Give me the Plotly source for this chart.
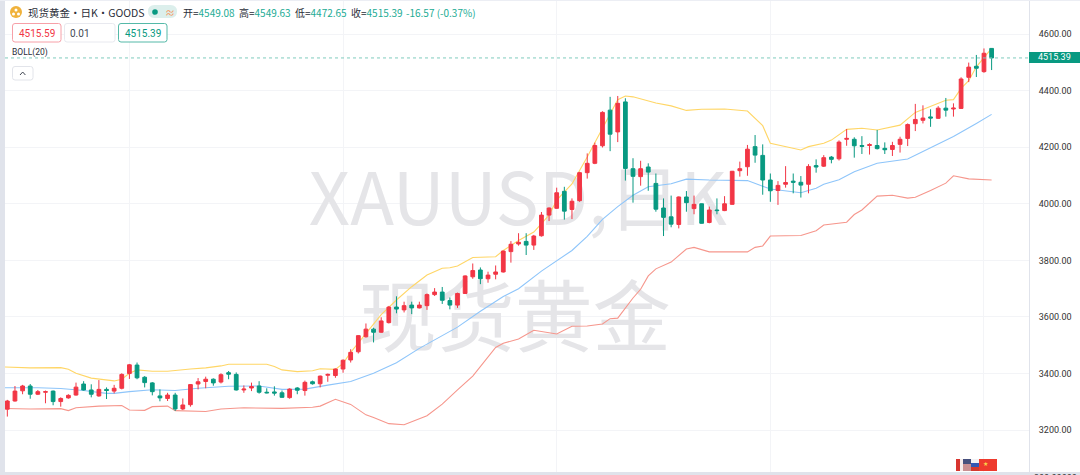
import plotly.graph_objects as go

# ---------- data ----------
opens = [3274,3303,3339,3356,3327,3334,3338,3301,3314,3324,3363,3342,3321,3344,3338,3348,3400,3430,3387,3367,
         3321,3312,3324,3275,3290,3363,3372,3380,3370,3403,3397,3342,3349,3356,3334,3335,3332,3315,3349,3340,
         3371,3364,3394,3393,3416,3448,3477,3530,3557,3546,3580,3635,3625,3642,3632,3640,3679,3688,3658,3642,
         3683,3742,3766,3735,3751,3759,3831,3858,3867,3854,3887,3960,3984,4044,3980,4011,4110,4143,4205,4331,
         4254,4360,4124,4096,4130,4072,3985,3954,3927,4024,3983,4000,3934,3978,3976,3998,4117,4131,4202,4171,
         4084,4047,4069,4080,4076,4069,4135,4133,4165,4159,4228,4228,4206,4206,4206,4196,4192,4210,4231,4283,
         4295,4307,4302,4338,4335,4337,4447,4486,4467,4549.08]
highs = [3307,3356,3360,3363,3342,3340,3340,3316,3327,3368,3373,3362,3377,3351,3360,3401,3434,3439,3391,3370,
         3344,3332,3332,3312,3363,3384,3389,3383,3401,3409,3404,3358,3368,3373,3348,3355,3340,3348,3352,3375,
         3375,3393,3400,3418,3450,3486,3536,3577,3562,3599,3639,3673,3654,3654,3654,3683,3702,3706,3669,3686,
         3747,3789,3775,3760,3782,3834,3868,3896,3896,3890,3971,3987,4057,4060,4019,4113,4178,4216,4327,4378,
         4381,4373,4161,4152,4143,4107,4019,4029,4026,4045,4029,4001,3990,4019,4027,4116,4149,4208,4243,4210,
         4107,4080,4133,4107,4098,4140,4157,4172,4169,4224,4264,4235,4239,4214,4261,4217,4219,4237,4284,4353,
         4348,4334,4345,4374,4355,4447,4499,4526,4549,4549.63]
lows = [3248,3301,3327,3311,3324,3295,3288,3283,3311,3322,3340,3316,3318,3310,3330,3344,3381,3380,3351,3323,
        3302,3303,3268,3271,3283,3344,3348,3357,3365,3380,3340,3332,3338,3329,3330,3322,3315,3311,3327,3322,
        3361,3351,3371,3385,3403,3439,3471,3527,3510,3544,3577,3613,3616,3610,3630,3625,3674,3646,3627,3632,
        3682,3735,3716,3721,3733,3757,3792,3852,3819,3837,3884,3939,3982,3944,3946,4007,4089,4140,4199,4186,
        4218,4082,4004,4064,4046,3972,3886,3917,3913,3972,3963,3930,3931,3963,3974,3997,4096,4099,4145,4032,
        4007,3996,4057,4037,4022,4037,4110,4130,4143,4153,4205,4163,4176,4174,4192,4176,4169,4181,4204,4257,
        4284,4272,4300,4308,4308,4336,4430,4448,4463,4472.65]
closes = [3303,3338,3356,3327,3336,3336,3301,3312,3323,3352,3342,3327,3344,3340,3348,3397,3431,3385,3368,3336,
          3314,3324,3275,3289,3361,3371,3380,3367,3396,3398,3342,3345,3354,3334,3332,3331,3316,3345,3341,3369,
          3364,3391,3397,3416,3447,3475,3534,3557,3546,3586,3635,3628,3640,3632,3642,3679,3688,3659,3642,3683,
          3745,3764,3735,3748,3759,3833,3857,3864,3854,3886,3960,3985,4039,3974,4009,4110,4143,4206,4323,4246,
          4355,4125,4097,4124,4112,3981,3952,3928,4024,4004,3998,3931,3978,3976,4000,4115,4124,4193,4172,4084,
          4046,4065,4075,4076,4066,4132,4130,4163,4157,4218,4231,4205,4203,4209,4195,4191,4206,4228,4280,4298,
          4303,4303,4338,4331,4338,4441,4483,4479,4532,4515.39]
candle_index = list(range(1, len(opens) + 1))

upper_idx = [0,4,8,9,10,12,15,16,17,18,20,22,25,27,29,30,35,36,37,39,41,42,44,45,46,49,50,52,54,56,58,59,60,62,65,66,68,70,72,73,75,77,79,81,82,83,86,88,90,92,95,98,100,101,105,106,108,109,111,113,115,118,120,123,124,125,126,127,128,130]
upper_val = [3424,3420,3421,3415,3401,3384,3374,3380,3401,3413,3408,3408,3416,3420,3427,3433,3433,3425,3413,3407,3410,3417,3415,3436,3475,3572,3608,3660,3707,3748,3772,3774,3780,3810,3813,3835,3870,3900,3960,4013,4070,4165,4267,4368,4381,4378,4356,4346,4330,4334,4335,4328,4276,4214,4190,4202,4214,4225,4263,4267,4261,4278,4323,4357,4366,4368,4408,4435,4484,4549]
middle_idx = [0,5,8,11,14,15,17,20,23,26,30,34,37,40,43,46,49,52,55,58,60,63,66,68,71,75,77,79,81,83,85,88,90,93,98,100,101,105,107,108,110,112,115,119,121,125,128,130]
middle_val = [3350,3350,3347,3340,3330,3330,3336,3343,3340,3348,3355,3356,3344,3345,3359,3372,3401,3438,3489,3535,3564,3620,3672,3700,3762,3835,3885,3945,3990,4030,4060,4071,4087,4084,4082,4062,4052,4039,4055,4069,4085,4113,4143,4158,4185,4238,4284,4316]
lower_idx = [0,4,8,9,10,13,16,17,19,20,22,23,27,29,32,37,41,42,44,46,48,49,51,53,56,58,60,62,65,66,68,70,73,75,77,79,80,81,83,84,85,86,88,90,91,93,98,99,100,101,105,107,108,111,112,113,115,117,119,120,122,124,125,127,130]
lower_val = [3277,3275,3276,3269,3279,3285,3287,3271,3270,3283,3285,3269,3266,3275,3279,3277,3281,3285,3309,3291,3254,3245,3223,3219,3251,3292,3342,3391,3492,3507,3522,3553,3540,3567,3568,3575,3594,3596,3667,3698,3745,3770,3794,3840,3846,3830,3830,3846,3851,3886,3888,3905,3925,3935,3962,3978,4027,4030,4020,4023,4047,4073,4099,4088,4084]

price_ticks = [3200,3400,3600,3800,4000,4200,4400,4600]
time_ticks = [17,45,73,101,129]
last_price = 4515.39

UP, DOWN = "#f23645", "#089981"
GRID = "#f3f4f7"
FRAME = "#e0e3eb"
FONT = "Noto Sans CJK SC"
TXT = "#2a2e39"
TEAL = "#22ab94"

W, H = 1080, 475
L, R, T, B = 5, 51, 0, 3
pw, ph = W - L - R, H - T - B
X_RANGE = [0.695, 134.9]
Y_RANGE = [3052.1, 4720.2]

def px(x): return (x - L) / pw
def py(y): return 1 - (y - T) / ph

fig = go.Figure()

# watermark below everything
fig.add_trace(go.Scatter(x=[67.9, 67.5], y=[3988, 3566], mode="text",
                         text=["XAUUSD,日K", "现货黄金"],
                         textfont=dict(family=FONT, size=[72, 78], color="#e5e5e8"),
                         textposition="middle center", hoverinfo="skip", showlegend=False))
for vals, idx, col in ((upper_val, upper_idx, "#ffd666"),
                       (middle_val, middle_idx, "#8ec5fa"),
                       (lower_val, lower_idx, "#f6968c")):
    fig.add_trace(go.Scatter(x=idx, y=vals, mode="lines", line=dict(color=col, width=1.1),
                             hoverinfo="skip", showlegend=False))

fig.add_trace(go.Candlestick(x=candle_index, open=opens, high=highs, low=lows, close=closes,
                             xaxis="x2", yaxis="y2", whiskerwidth=0,
                             increasing=dict(line=dict(color=UP, width=1), fillcolor=UP),
                             decreasing=dict(line=dict(color=DOWN, width=1), fillcolor=DOWN),
                             showlegend=False))

shapes, ann = [], []

def rect(x0, y0, x1, y1, fill=None, line=None, lw=1):
    shapes.append(dict(type="rect", xref="paper", yref="paper",
                       x0=px(x0), x1=px(x1), y0=py(y0), y1=py(y1),
                       fillcolor=fill or "rgba(0,0,0,0)",
                       line=dict(color=line or "rgba(0,0,0,0)", width=lw if line else 0)))

def rrect(x0, y0, x1, y1, r, fill="rgba(255,255,255,1)", line=None, lw=1):
    pts = (f"M{px(x0+r)},{py(y0)} L{px(x1-r)},{py(y0)} Q{px(x1)},{py(y0)} {px(x1)},{py(y0+r)} "
           f"L{px(x1)},{py(y1-r)} Q{px(x1)},{py(y1)} {px(x1-r)},{py(y1)} L{px(x0+r)},{py(y1)} "
           f"Q{px(x0)},{py(y1)} {px(x0)},{py(y1-r)} L{px(x0)},{py(y0+r)} Q{px(x0)},{py(y0)} {px(x0+r)},{py(y0)} Z")
    shapes.append(dict(type="path", xref="paper", yref="paper", path=pts, fillcolor=fill,
                       line=dict(color=line or "rgba(0,0,0,0)", width=lw if line else 0)))

def circle(cx, cy, r, fill):
    shapes.append(dict(type="circle", xref="paper", yref="paper",
                       x0=px(cx - r), x1=px(cx + r), y0=py(cy + r), y1=py(cy - r),
                       fillcolor=fill, line=dict(width=0)))

def text(x, y, s, color=TXT, size=10, anchor="left", family=FONT):
    ann.append(dict(xref="paper", yref="paper", x=px(x), y=py(y), text=s, showarrow=False,
                    xanchor=anchor, yanchor="middle", align=anchor,
                    font=dict(family=family, size=size, color=color),
                    borderpad=0, borderwidth=0))

# frame
rect(0, 0, 5, 475, fill=FRAME)
rect(0, 472, 1080, 475, fill=FRAME)
rect(0, 0, 1080, 1, fill="#eceef4")

# last-price line and tag
shapes.append(dict(type="line", xref="paper", yref="y", x0=0, x1=1, y0=last_price, y1=last_price,
                   line=dict(color="#7fcbbd", width=1, dash="dot")))
rect(1029, 52, 1080, 63, fill=DOWN)
text(1054.5, 57.5, "4515.39", color="#ffffff", size=9, anchor="center", family="Roboto")

# header
circle(16, 12, 6, "#f0b23c")
circle(16, 10, 1.5, "#ffffff"); circle(13.5, 14, 1.5, "#ffffff"); circle(18.5, 14, 1.5, "#ffffff")
text(28, 12, "现货黄金・日K・GOODS", size=10.5)
rrect(148, 5, 177, 18, 6.5, fill="#dcefec")
circle(155, 12, 2.8, DOWN)
text(170, 12, "≈", color="#f6975c", size=10, anchor="center")
for x, label, val in ((183, "开", "4549.08"), (239, "高", "4549.63"), (295, "低", "4472.65"), (351, "收", "4515.39")):
    text(x, 12, f"{label}=<span style='color:{TEAL}'>{val}</span>", size=10)
text(406, 12, "-16.57 (-0.37%)", color=TEAL, size=10)

rrect(12.5, 23.5, 61, 42, 2.5, line="#f7a0a8")
text(36.8, 33, "4515.59", color=UP, size=10, anchor="center", family="Roboto")
rrect(64.5, 23.5, 115, 42, 2.5, line="#e8e9ef")
text(70, 33, "0.01", color="#444a55", size=10, family="Roboto")
rrect(118.5, 23.5, 167, 42, 2.5, line="#55b9a8")
text(142.8, 33, "4515.39", color=DOWN, size=10, anchor="center", family="Roboto")
text(12, 52, "BOLL(20)", size=8.5, family="Roboto")
rrect(12.5, 66.5, 33, 80, 2.5, line="#e2e4ea")
shapes.append(dict(type="path", xref="paper", yref="paper",
                   path=f"M{px(20)},{py(75)} L{px(22.7)},{py(72)} L{px(25.4)},{py(75)}",
                   line=dict(color="#444a55", width=1)))

# flags
rect(956, 459, 960, 471, fill="#d8352f")
rect(960, 459, 963, 471, fill="#f6ecec")
rect(963, 459, 971, 471, fill="#c98f92")
rect(963, 459, 971, 464, fill="#46507d")
rect(971, 459, 979, 463, fill="#f1f1f4")
rect(971, 463, 979, 467, fill="#3358b4")
rect(971, 467, 979, 471, fill="#d33a2f")
rect(979, 459, 997, 471, fill="#ee3a2d")
text(985, 463.5, "★", color="#f8d24a", size=6, anchor="center", family="DejaVu Sans")

# clipped bottom label, cut by the picture's edge as in the reference
ann.append(dict(xref="paper", yref="paper", x=px(1055), y=py(471.5), text="300.00000", showarrow=False,
                xanchor="center", yanchor="top", font=dict(family="Roboto", size=9, color="#333333"),
                borderpad=0))

fig.update_layout(
    width=W, height=H, autosize=False,
    margin=dict(l=L, r=R, t=T, b=B, pad=0),
    paper_bgcolor="#ffffff", plot_bgcolor="#ffffff",
    showlegend=False, hovermode=False, dragmode=False,
    shapes=shapes, annotations=ann,
    xaxis=dict(range=X_RANGE, tickvals=time_ticks, showticklabels=False, showgrid=True,
               gridcolor=GRID, gridwidth=1, zeroline=False, ticks="", showline=False, fixedrange=True),
    yaxis=dict(range=Y_RANGE, side="right", tickvals=price_ticks, tickformat=".2f", showgrid=True,
               gridcolor=GRID, gridwidth=1, zeroline=False, ticks="outside", ticklen=7,
               tickcolor="rgba(0,0,0,0)", showline=True, linecolor=FRAME, linewidth=1,
               tickfont=dict(family="Roboto", size=9, color="#333333"), fixedrange=True),
    xaxis2=dict(range=X_RANGE, overlaying="x", visible=False, rangeslider=dict(visible=False), fixedrange=True),
    yaxis2=dict(range=Y_RANGE, overlaying="y", visible=False, fixedrange=True),
)

fig.write_html("out.html", config={"displayModeBar": False},
               post_script="document.body.style.margin='0';document.body.style.overflow='hidden';")
